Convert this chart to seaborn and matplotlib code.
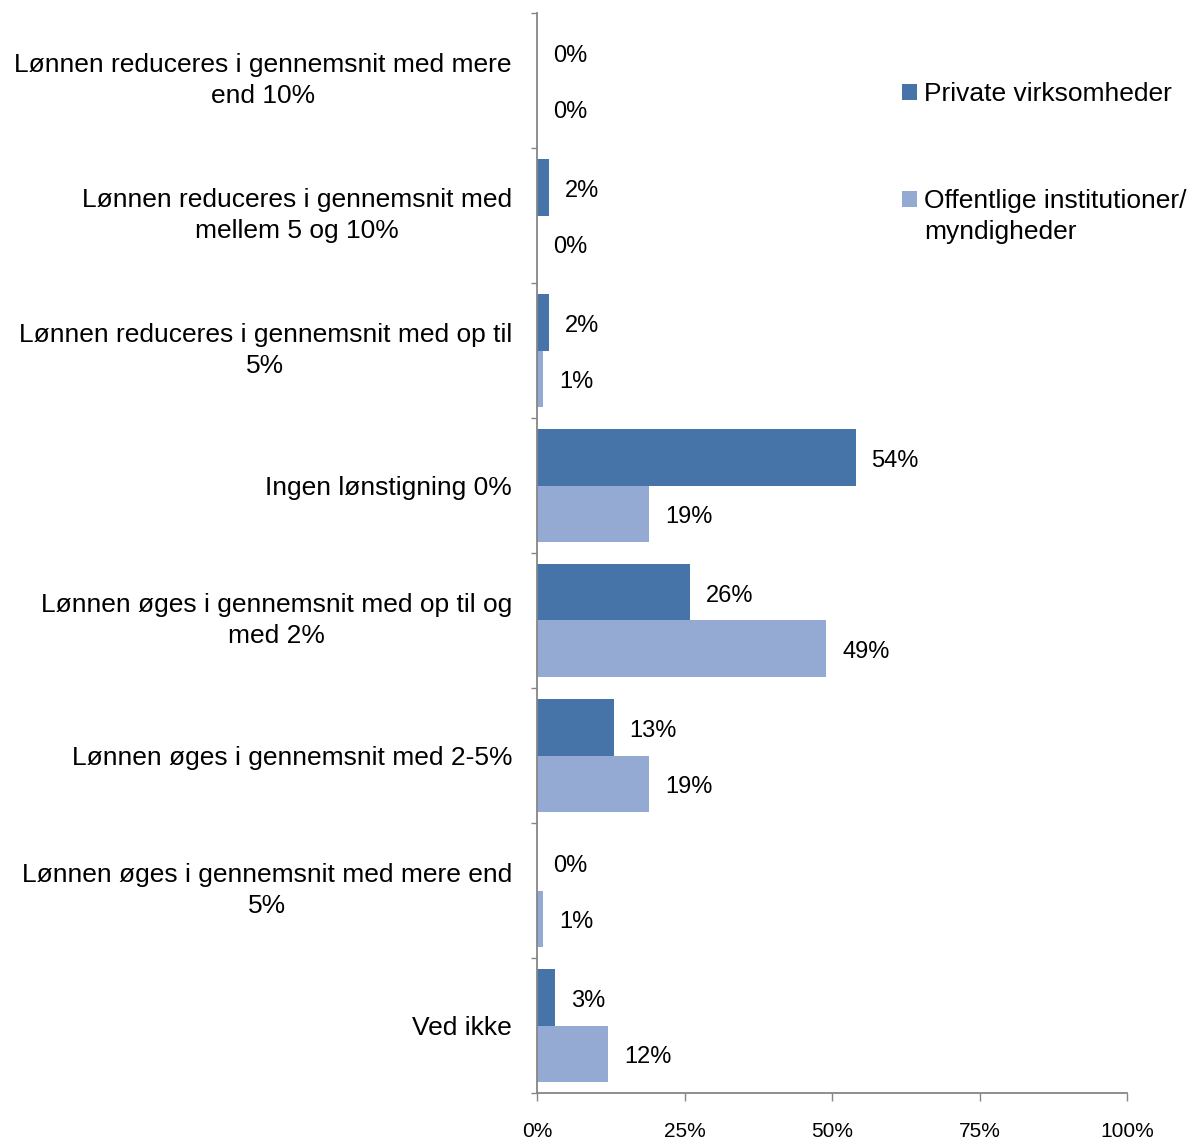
import matplotlib
matplotlib.use("Agg")
import matplotlib.pyplot as plt
import seaborn as sns
import pandas as pd
from matplotlib.ticker import FixedLocator, FuncFormatter

categories = [
    "Lønnen reduceres i gennemsnit med mere\nend 10%",
    "Lønnen reduceres i gennemsnit med\nmellem 5 og 10%",
    "Lønnen reduceres i gennemsnit med op til\n5%",
    "Ingen lønstigning 0%",
    "Lønnen øges i gennemsnit med op til og\nmed 2%",
    "Lønnen øges i gennemsnit med 2-5%",
    "Lønnen øges i gennemsnit med mere end\n5%",
    "Ved ikke",
]
series_names = ["Private virksomheder", "Offentlige institutioner/\nmyndigheder"]
private = [0, 2, 2, 54, 26, 13, 0, 3]
public = [0, 0, 1, 19, 49, 19, 1, 12]
x_ticks = [0, 25, 50, 75, 100]

colors = ["#4674A8", "#95AAD2"]
axis_gray = "#868686"

sns.set_style("white")
plt.rcParams["font.family"] = ["Liberation Sans", "DejaVu Sans"]

df = pd.DataFrame({
    "Kategori": categories * 2,
    "Gruppe": [series_names[0]] * len(categories) + [series_names[1]] * len(categories),
    "Andel": private + public,
})

fig = plt.figure(figsize=(11.89, 11.40), dpi=100)
ax = fig.add_axes([537 / 1189, 1 - 1093 / 1140, 590 / 1189, 1080 / 1140])

sns.barplot(data=df, y="Kategori", x="Andel", hue="Gruppe", order=categories,
            hue_order=series_names, palette=colors, orient="h", width=0.83,
            saturation=1, legend=False, linewidth=0, edgecolor="none", ax=ax)

for cont in ax.containers:
    texts = ax.bar_label(cont, labels=[f"{v:.0f}%" for v in cont.datavalues],
                         padding=11.5, fontsize=17, color="black")
    for t in texts:
        x0, y0 = t.xyann
        t.xyann = (x0, y0 - 2.3)

ax.set_xlim(0, 100)
ax.set_ylim(len(categories) - 0.5, -0.5)
ax.set_xlabel("")
ax.set_ylabel("")
ax.set_xticks(x_ticks)
ax.xaxis.set_major_formatter(FuncFormatter(lambda v, p: f"{v:.0f}%"))
ax.tick_params(axis="x", length=6, width=1, color=axis_gray, direction="out",
               labelsize=15, pad=15, bottom=True, labelcolor="black")
ax.yaxis.set_minor_locator(FixedLocator([i - 0.5 for i in range(len(categories) + 1)]))
ax.tick_params(axis="y", which="major", length=0, pad=18, labelsize=19, left=True,
               labelcolor="black")
ax.tick_params(axis="y", which="minor", length=4.5, width=1, color=axis_gray,
               direction="out", left=True)
for lbl in ax.get_yticklabels():
    lbl.set_multialignment("center")
    lbl.set_linespacing(1.32)
    if "\n" in lbl.get_text():
        lbl.set_verticalalignment("center")

for s in ["top", "right"]:
    ax.spines[s].set_visible(False)
for s in ["left", "bottom"]:
    ax.spines[s].set_color(axis_gray)
    ax.spines[s].set_linewidth(1.3)

handles = [ax.containers[0], ax.containers[1]]
leg = fig.legend(handles, ["Private virksomheder", "Offentlige institutioner/"],
                 loc="upper left", bbox_to_anchor=(902 / 1189, 1 - 82 / 1140),
                 frameon=False, fontsize=19, borderpad=0, borderaxespad=0,
                 handlelength=0.55, handleheight=0.55, handletextpad=0.28,
                 labelspacing=3.15)
for t in leg.get_texts():
    t.set_color("black")
fig.canvas.draw()
ax.annotate("myndigheder", xy=(0, 0), xycoords=leg.get_texts()[1],
            xytext=(0, -31), textcoords="offset pixels", fontsize=19,
            ha="left", va="bottom", annotation_clip=False, color="black")

fig.savefig("out.png", dpi=100)
